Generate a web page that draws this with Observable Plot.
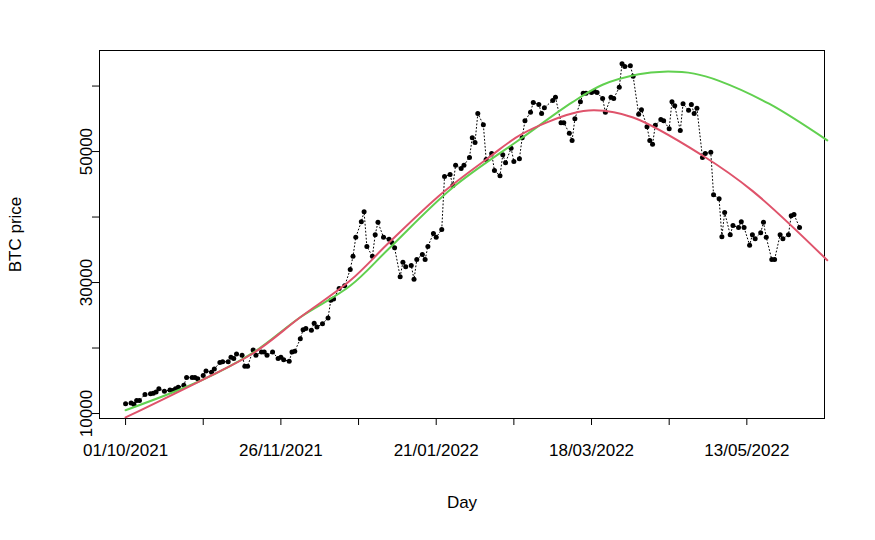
<!DOCTYPE html>
<html>
<head>
<meta charset="utf-8">
<script src="https://cdn.jsdelivr.net/npm/d3@7"></script>
<script src="https://cdn.jsdelivr.net/npm/@observablehq/plot@0.6"></script>
<style>
  body { margin: 0; background: #fff; font-family: "Liberation Sans", Arial, sans-serif; }
</style>
</head>
<body>
<div id="chart"></div>
<script>
// days since 01/10/2021 and observed BTC price
const days = [0,2,3,4,5,7,9,10,11,12,14,16,17,18,19,21,22,24,25,26,28,29,31,32,34,35,37,38,39,40,42,43,44,46,47,49,50,51,53,55,56,57,59,60,61,63,64,65,67,68,69,71,73,74,75,
  77,79,81,82,83,85,86,87,89,90,91,93,95,96,97,99,100,101,103,104,105,107,108,109,111,112,114,115,117,118,119,121,122,124,125,126,127,129,130,132,133,135,136,137,139,140,142,143,144,146,147,149,150,151,154,
  155,157,158,160,161,162,164,165,166,168,169,170,172,173,175,176,178,179,180,182,183,185,186,188,189,190,191,193,194,196,197,198,200,201,203,204,205,206,208,209,211,212,214,215,216,218,219,221,222,223,225,226,227,229,230,231,233,234,236,237,239,240,241,243];
const price = [11500,11600,11400,12000,12000,12900,13000,13100,13300,13800,13400,13600,13500,13800,14000,14300,15500,15500,15500,15300,15800,16500,16300,16800,17800,17900,17900,18600,18400,19100,18900,17200,17200,19700,18900,19400,19400,18900,19400,18400,18600,18200,18000,19400,19500,21400,22800,23000,22700,23800,23200,23700,24600,27300,27500,
  29100,29500,32000,34000,36900,39300,40800,35500,34000,37300,39200,36900,36600,36100,35300,30900,33100,32400,32600,30500,33500,34300,33500,35500,37500,36900,38100,46200,46500,44800,47900,47400,47900,49100,52100,51400,55800,54100,48800,49700,47100,46300,49500,48300,50500,48500,48900,52100,54700,56000,57500,57200,55800,56700,57800,
  58300,54400,54400,52800,51700,55000,57600,58900,58900,59000,59200,59000,58100,56000,58300,58100,59800,63400,63000,63100,61500,55700,56400,53800,51700,51100,54000,54900,54700,53500,57600,57000,53200,57300,56300,57200,55800,56600,49100,49700,49900,43400,42800,37000,40700,37300,38700,38400,39300,38400,35700,37300,36700,37600,39200,36900,33500,33500,37300,36700,37300,40200,40400,38400];

// fitted curves
const fitRedDays = [0,27,46,63,81,95,114,131,143,161,169,183,208,226,253];
const fitRed = [9400,15000,19200,24700,30300,36100,43600,49100,52700,55800,56300,55200,49400,44000,33400];
const fitGreenDays = [0,27,46,63,81,95,118,143,161,172,185,194,205,214,232,253];
const fitGreen = [10500,15000,19300,24700,29500,35200,44500,52100,57500,60200,61800,62200,61900,60800,57300,51700];

const majorDays = [0,56,112,168,224];
const majorLabels = ["01/10/2021","26/11/2021","21/01/2022","18/03/2022","13/05/2022"];
const minorDays = [28,84,140,196];
const yTicks = [10000,20000,30000,40000,50000,60000];
const yLabels = [10000,30000,50000];

const obs = days.map((d, i) => ({day: d, price: price[i]}));
const red = fitRedDays.map((d, i) => ({day: d, price: fitRed[i]}));
const green = fitGreenDays.map((d, i) => ({day: d, price: fitGreen[i]}));

const chart = Plot.plot({
  width: 875,
  height: 540,
  marginLeft: 99,
  marginRight: 51,
  marginTop: 50,
  marginBottom: 122,
  style: {fontFamily: "Liberation Sans, Arial, sans-serif", fontSize: "17px", color: "#000", background: "#fff"},
  x: {domain: [-9.4, 252]},
  y: {domain: [9240, 65430]},
  marks: [
    Plot.frame({stroke: "#000"}),
    Plot.line(obs, {x: "day", y: "price", stroke: "#000", strokeWidth: 1, strokeDasharray: "1,2.5"}),
    Plot.dot(obs, {x: "day", y: "price", r: 2.5, fill: "#000"}),
    Plot.line(green, {x: "day", y: "price", stroke: "#61D04F", strokeWidth: 2, curve: "catmull-rom"}),
    Plot.line(red, {x: "day", y: "price", stroke: "#DF536B", strokeWidth: 2, curve: "catmull-rom"}),
    Plot.axisX({ticks: majorDays, tickSize: 7, tickPadding: 18, tickFormat: d => majorLabels[majorDays.indexOf(d)], label: null, fontSize: 17}),
    Plot.axisX({ticks: minorDays, tickSize: 7, tickFormat: () => "", label: null}),
    Plot.axisY({ticks: yTicks, tickSize: 7, tickFormat: () => "", label: null}),
    Plot.text(yLabels, {y: d => d, text: d => String(d), frameAnchor: "left", dx: -13, rotate: -90, textAnchor: "middle", fontSize: 17}),
    Plot.text(["Day"], {frameAnchor: "bottom", dy: 89, fontSize: 17}),
    Plot.text(["BTC price"], {frameAnchor: "left", dx: -84, rotate: -90, textAnchor: "middle", fontSize: 17})
  ]
});

document.getElementById("chart").append(chart);
</script>
</body>
</html>
